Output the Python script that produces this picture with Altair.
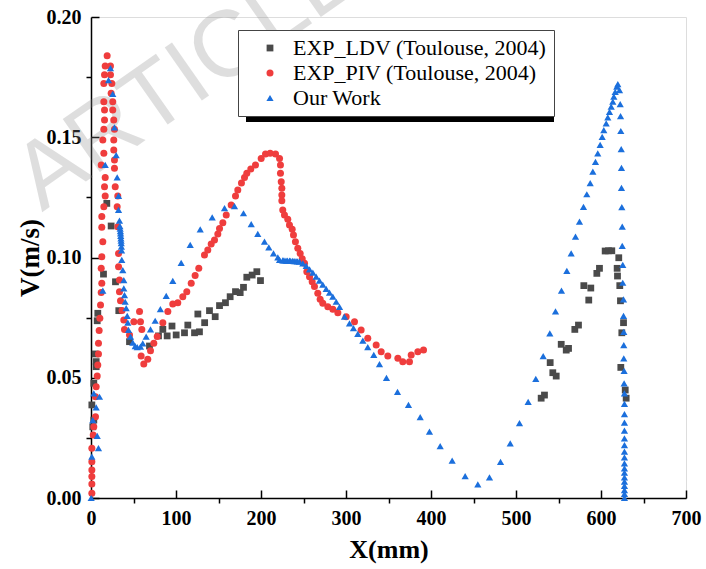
import altair as alt
import pandas as pd

# ---- data: velocity profiles V (m/s) versus X (mm) ----
series_names = ["EXP_LDV (Toulouse, 2004)", "EXP_PIV (Toulouse, 2004)", "Our Work"]
series_colors = ["#4a4a4a", "#ef3d3d", "#1b6fdc"]
series_shapes = ["square", "circle", "triangle-up"]
series_sizes = [46, 52, 80]

ldv_x = [1.0, 2.1, 3.3, 3.3, 4.9, 6.1, 6.1, 7.3, 8.0, 14.7, 18.6, 23.7, 28.8, 32.7,
         45.3, 68.8, 79.4, 84.5, 89.6, 95.3, 100.2, 110.0, 113.9, 121.8, 125.7, 127.6,
         133.7, 139.4, 146.1, 151.2, 158.2, 163.7, 170.0, 175.5, 179.4, 183.3, 189.6,
         195.1, 199.4,
         529.6, 533.5, 540.2, 543.3, 547.3, 553.2, 559.1, 561.8, 569.2, 573.5, 579.8,
         585.6, 588.0, 595.1, 598.2, 604.9, 608.8, 612.7, 620.9, 619.0, 619.4, 622.1,
         622.9, 626.5, 624.5, 623.3, 628.5, 629.6]
ldv_v = [0.0387, 0.0296, 0.0324, 0.0477, 0.0599, 0.0567, 0.0546, 0.0737, 0.0768, 0.0931,
         0.1225, 0.1131, 0.0899, 0.0779, 0.0650, 0.0632, 0.0674, 0.0701, 0.0674, 0.0715,
         0.0678, 0.0687, 0.0719, 0.0687, 0.0765, 0.0691, 0.0729, 0.0779, 0.0754, 0.0800,
         0.0812, 0.0837, 0.0858, 0.0854, 0.0876, 0.0918, 0.0927, 0.0941, 0.0904,
         0.0415, 0.0428, 0.0563, 0.0521, 0.0507, 0.0639, 0.0615, 0.0622, 0.0701, 0.0719,
         0.0883, 0.0823, 0.0873, 0.0934, 0.0955, 0.1027, 0.1028, 0.1028, 0.0999, 0.0955,
         0.0923, 0.0883, 0.0820, 0.0729, 0.0687, 0.0543, 0.0449, 0.0415]

piv_x = [1.0, 1.0, 1.0, 1.0, 1.0, 1.0, 2.6, 3.3, 5.3, 5.3, 6.1, 7.3, 8.0, 8.8, 8.8, 9.6,
         10.4, 11.2, 12.0, 12.7, 12.0, 12.7, 13.9, 12.7, 12.7, 15.1, 16.7, 15.9, 16.7,
         12.0, 15.1, 13.9, 15.1, 15.9, 15.9, 15.1, 15.1, 15.9, 16.7, 19.0,
         22.9, 22.9, 24.5, 23.7, 25.6, 25.6, 26.8, 27.6, 26.8, 26.8, 27.6, 27.6, 28.5,
         31.5, 30.8, 31.5, 32.4, 32.4, 33.5, 33.5, 34.7, 36.5, 38.6, 39.4, 45.3, 50.4,
         57.1, 58.2, 59.8, 59.0, 62.1, 66.8, 70.0, 73.9, 77.9, 84.5, 90.4, 96.2, 102.1,
         108.0, 112.7, 117.9, 122.5, 126.8, 133.5, 137.4, 141.4, 145.3, 149.2, 151.2,
         155.1, 159.1, 164.9, 170.0, 172.7, 177.0, 180.6, 183.3, 188.0, 193.5, 200.2,
         205.3, 210.8, 217.1, 221.8, 222.9, 222.9, 223.8, 224.5, 224.5, 224.5, 225.6,
         227.6, 231.5, 233.5, 236.7, 238.2, 240.5, 243.3, 246.1, 248.5, 251.2, 253.9,
         257.1, 260.2, 262.9, 266.8, 269.6, 272.7, 278.6, 284.5, 290.4, 300.2, 310.0,
         317.8, 325.6, 335.5, 341.4, 349.2, 361.0, 366.8, 374.7, 376.7, 384.5, 391.2]
piv_v = [0.0020, 0.0058, 0.0089, 0.0116, 0.0151, 0.0207, 0.0262, 0.0296, 0.0338,
         0.0421, 0.0463, 0.0507, 0.0553, 0.0599, 0.0643, 0.0696, 0.0747, 0.0802, 0.0854,
         0.0893, 0.0955, 0.1003, 0.1066, 0.1126, 0.1170, 0.1211, 0.1256, 0.1294, 0.1333,
         0.1385, 0.1433, 0.1489, 0.1533, 0.1572, 0.1613, 0.1648, 0.1724, 0.1760, 0.1796,
         0.1839,
         0.1796, 0.1760, 0.1724, 0.1683, 0.1648, 0.1613, 0.1572, 0.1533, 0.1489, 0.1447,
         0.1405, 0.1371, 0.1294, 0.1256, 0.1211, 0.1128, 0.1017, 0.0962, 0.0906, 0.0858,
         0.0820, 0.0780, 0.0740, 0.0701, 0.0678, 0.0733, 0.0775, 0.0733, 0.0701, 0.0590,
         0.0557, 0.0577, 0.0612, 0.0643, 0.0671, 0.0729, 0.0775, 0.0807, 0.0812, 0.0837,
         0.0858, 0.0893, 0.0925, 0.0955, 0.1010, 0.1031, 0.1056, 0.1073, 0.1098, 0.1121,
         0.1145, 0.1177, 0.1218, 0.1256, 0.1281, 0.1310, 0.1333, 0.1350, 0.1368, 0.1385,
         0.1412, 0.1430, 0.1433, 0.1430, 0.1412, 0.1385, 0.1350, 0.1315, 0.1288, 0.1260,
         0.1236, 0.1197, 0.1177, 0.1159, 0.1135, 0.1117, 0.1094, 0.1065, 0.1038, 0.1017,
         0.0995, 0.0976, 0.0941, 0.0920, 0.0899, 0.0879, 0.0851, 0.0826, 0.0810, 0.0795,
         0.0785, 0.0770, 0.0754, 0.0733, 0.0699, 0.0664, 0.0636, 0.0608, 0.0590, 0.0581,
         0.0567, 0.0567, 0.0595, 0.0608, 0.0615]

our_x = [0.2, 1.0, 8.8, 7.3, 2.1, 6.1, 3.3, 10.0, 13.9, 16.7, 20.6, 22.9, 25.6, 27.6,
         29.6, 30.8, 32.4, 32.4, 33.5, 34.0, 34.3, 34.6, 34.8, 35.0, 35.2, 35.4, 35.6,
         35.8, 36.0, 36.2, 37.4, 38.6, 38.6, 39.4, 40.2, 41.4, 42.6, 43.3, 44.1, 46.5,
         49.2, 52.0, 54.4, 58.2, 60.9, 64.9, 70.0, 75.5, 81.6, 88.5, 96.2, 106.1, 116.7,
         128.5, 142.6, 157.1, 168.8, 179.4, 188.5, 196.2, 204.1, 209.2, 214.7, 219.8,
         221.8, 225.6, 227.0, 229.4, 231.0, 233.5, 235.0, 237.3, 239.0, 241.2, 243.0,
         245.3, 249.2, 253.2, 257.1, 261.0, 264.9, 268.8, 272.7, 276.7, 280.6, 284.5,
         288.5, 292.4, 298.2, 304.1, 308.8, 313.9, 319.8, 325.6, 332.7, 339.4, 347.6,
         360.6, 373.5, 387.3, 398.2, 410.8, 424.9, 440.2, 455.1, 468.8, 481.8, 493.2,
         504.1, 514.3, 523.3, 532.0, 539.8, 546.5, 553.5, 559.8, 564.9, 570.0, 574.7,
         579.4, 583.3, 587.3, 590.4, 593.5, 596.2, 599.0, 601.4, 603.3, 606.1, 608.0,
         610.0, 612.0, 613.9, 615.1, 616.7, 618.6, 619.8, 621.8, 622.6, 623.0, 623.3,
         623.8, 624.1, 624.1, 624.5, 625.0, 625.0, 625.6, 625.6, 626.5, 626.5, 626.8,
         626.8, 626.8, 627.2, 627.2, 627.6, 627.6, 627.6, 627.6, 627.6, 627.6, 627.6,
         627.6, 627.6, 627.6, 627.6, 627.6, 627.6, 627.6, 627.6, 627.6, 627.6, 627.6]
our_v = [0.0, 0.0172, 0.0207, 0.0258, 0.0324, 0.0377, 0.0435, 0.0421, 0.0862, 0.1385,
         0.1738, 0.1787, 0.1680, 0.1541, 0.1426, 0.1333, 0.1256, 0.1198, 0.1153, 0.1130,
         0.1120, 0.1110, 0.1100, 0.1090, 0.1080, 0.1070, 0.1060, 0.1045, 0.1030, 0.0990,
         0.0948, 0.0906, 0.0872, 0.0844, 0.0816, 0.0789, 0.0757, 0.0729, 0.0699, 0.0671,
         0.0646, 0.0632, 0.0627, 0.0629, 0.0643, 0.0671, 0.0701, 0.0737, 0.0785, 0.0840,
         0.0903, 0.0978, 0.1052, 0.1117, 0.1167, 0.1205, 0.1214, 0.1184, 0.1139, 0.1098,
         0.1066, 0.1042, 0.1017, 0.1001, 0.0990, 0.0988, 0.0988, 0.0987, 0.0987, 0.0987,
         0.0986, 0.0986, 0.0985, 0.0985, 0.0984, 0.0983, 0.0976, 0.0965, 0.0951, 0.0937,
         0.0920, 0.0904, 0.0887, 0.0870, 0.0854, 0.0837, 0.0816, 0.0795, 0.0754, 0.0726,
         0.0706, 0.0682, 0.0654, 0.0627, 0.0595, 0.0557, 0.0499, 0.0441, 0.0387, 0.0336,
         0.0276, 0.0216, 0.0155, 0.0091, 0.0057, 0.0086, 0.0150, 0.0227, 0.0311, 0.0400,
         0.0495, 0.0590, 0.0685, 0.0776, 0.0862, 0.0944, 0.1017, 0.1087, 0.1149, 0.1211,
         0.1263, 0.1309, 0.1357, 0.1398, 0.1433, 0.1468, 0.1502, 0.1530, 0.1558, 0.1583,
         0.1606, 0.1627, 0.1648, 0.1669, 0.1689, 0.1710, 0.1721, 0.1696, 0.1638, 0.1588,
         0.1526, 0.1451, 0.1373, 0.1290, 0.1209, 0.1128, 0.1048, 0.0969, 0.0895, 0.0826,
         0.0757, 0.0691, 0.0636, 0.0581, 0.0529, 0.0477, 0.0435, 0.0391, 0.0349, 0.0313,
         0.0280, 0.0248, 0.0220, 0.0193, 0.0169, 0.0144, 0.0123, 0.0105, 0.0086, 0.0068,
         0.0050, 0.0033, 0.0017, 0.0]

x_ticks_all = list(range(0, 701, 50))
x_ticks_major = list(range(0, 701, 100))
y_ticks_all = [round(i * 0.025, 3) for i in range(9)]
y_ticks_major = [round(i * 0.05, 2) for i in range(5)]

frames = [
    pd.DataFrame({"x": ldv_x, "v": ldv_v, "series": series_names[0]}),
    pd.DataFrame({"x": piv_x, "v": piv_v, "series": series_names[1]}),
    pd.DataFrame({"x": our_x, "v": our_v, "series": series_names[2]}),
]
df = pd.concat(frames, ignore_index=True)

SERIF = "Liberation Serif"
x_scale = alt.Scale(domain=[0, 700], nice=False, zero=False)
y_scale = alt.Scale(domain=[0, 0.2], nice=False)

# minor ticks point outward, labels sit at the major values
x_axis_main = alt.Axis(
    orient="bottom", values=x_ticks_all, grid=False,
    tickSize=5, tickWidth=1.5, tickColor="black",
    tickOpacity={"condition": {"test": "datum.value % 100 === 0", "value": 0}, "value": 1},
    labelExpr="datum.value % 100 === 0 ? datum.label : ''",
    labelFont=SERIF, labelFontWeight="bold", labelFontSize=20, labelColor="black",
    labelPadding=5, labelFlush=False, labelOverlap=False,
    domainColor="black", domainWidth=1.5,
    title="X(mm)", titleFont=SERIF, titleFontWeight="bold", titleFontSize=26,
    titleColor="black", titleX=297.5, titleY=51, titleBaseline="middle", titleAlign="center",
)
y_axis_main = alt.Axis(
    orient="left", values=y_ticks_all, grid=False,
    tickSize=5, tickWidth=1.5, tickColor="black",
    tickOpacity={"condition": {"test": "round(datum.value * 1000) % 50 === 0", "value": 0},
                 "value": 1},
    labelExpr="round(datum.value * 1000) % 50 === 0 ? format(datum.value, '.2f') : ''",
    labelFont=SERIF, labelFontWeight="bold", labelFontSize=20, labelColor="black",
    labelPadding=5, labelFlush=False, labelOverlap=False,
    domainColor="black", domainWidth=1.5,
    title="V(m/s)", titleFont=SERIF, titleFontWeight="bold", titleFontSize=27,
    titleColor="black", titleAngle=270, titleX=-61, titleY=240.5,
    titleBaseline="middle", titleAlign="center",
)

legend = alt.Legend(
    title=None, orient="none", legendX=147, legendY=13,
    fillColor="white", strokeColor="#444444", padding=7,
    labelFont=SERIF, labelFontSize=22, labelColor="black", labelLimit=0,
    symbolSize=32, symbolOffset=14, labelOffset=12, rowPadding=3,
    symbolStrokeWidth=0,
)

points = alt.Chart(df).mark_point(filled=True, opacity=1).encode(
    x=alt.X("x:Q", scale=x_scale, axis=x_axis_main),
    y=alt.Y("v:Q", scale=y_scale, axis=y_axis_main),
    color=alt.Color("series:N", scale=alt.Scale(domain=series_names, range=series_colors),
                    legend=legend),
    shape=alt.Shape("series:N", scale=alt.Scale(domain=series_names, range=series_shapes),
                    legend=legend),
    size=alt.Size("series:N", scale=alt.Scale(domain=series_names, range=series_sizes),
                  legend=None),
)

# major ticks drawn inward: an extra axis shifted into the plot area
inner_ticks = alt.Chart(df).mark_point(opacity=0).encode(
    x=alt.X("x:Q", scale=x_scale, axis=alt.Axis(
        orient="bottom", values=x_ticks_major, offset=-8, tickSize=8, tickWidth=1.5,
        tickColor="black", domain=False, labels=False, grid=False, title=None)),
    y=alt.Y("v:Q", scale=y_scale, axis=alt.Axis(
        orient="left", values=y_ticks_major, offset=-8, tickSize=8, tickWidth=1.5,
        tickColor="black", domain=False, labels=False, grid=False, title=None)),
)

watermark = alt.Chart(pd.DataFrame({"t": ["ARTICLE"]})).mark_text(
    font="Liberation Sans", fontSize=94, color="#8c8c8c", opacity=0.28, angle=325,
    align="center", baseline="alphabetic",
).encode(text="t:N", x=alt.value(113), y=alt.value(82))

legend_shadow = alt.Chart(pd.DataFrame({"k": [0]})).mark_rect(color="black").encode(
    x=alt.value(155), x2=alt.value(463), y=alt.value(21), y2=alt.value(105),
)

chart = alt.layer(watermark, legend_shadow, points, inner_ticks).resolve_axis(
    x="independent", y="independent"
).properties(
    width=595, height=481,
    padding={"left": 91, "top": 17, "right": 20, "bottom": 71},
    autosize=alt.AutoSizeParams(type="none"),
).configure_view(stroke="black", strokeWidth=1.5).configure(background="white")

chart.save("out.html", embed_options={"renderer": "svg", "actions": False})
